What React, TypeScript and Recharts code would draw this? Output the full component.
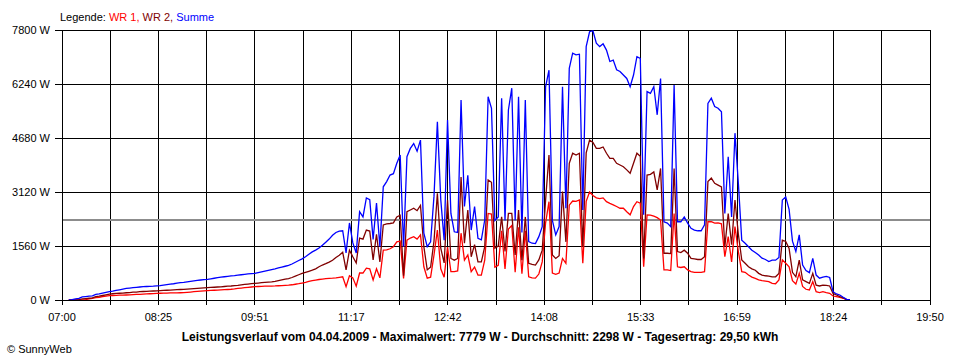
import { CartesianGrid, Line, LineChart, ReferenceLine, XAxis, YAxis } from "recharts";

// samples every 3 minutes, first one at 07:06
const START_MIN = 6;
const STEP_MIN = 3;
const SPAN_MIN = 770; // 07:00 .. 19:50

const timeLabels = ["07:00", "08:25", "09:51", "11:17", "12:42", "14:08", "15:33", "16:59", "18:24", "19:50"];
const yTicks = [0, 1560, 3120, 4680, 6240, 7800];
const average = 2298;

// WR 1 (red)
const wr1 = [
  0, 0, 0, 0, 0, 10, 30, 50, 70, 80,
  95, 110, 125, 130, 135, 140, 140, 145, 150, 155,
  160, 165, 170, 175, 180, 185, 190, 195, 198, 200,
  203, 205, 208, 210, 212, 220, 230, 240, 250, 258,
  265, 270, 276, 282, 288, 294, 298, 304, 310, 320,
  335, 345, 355, 365, 375, 385, 390, 394, 398, 400,
  403, 406, 412, 418, 425, 430, 440, 455, 470, 490,
  510, 535, 560, 575, 592, 605, 615, 625, 630, 640,
  655, 670, 385, 700, 640, 400, 780, 780, 920, 900,
  580, 900, 640, 1440, 1450, 1480, 1540, 1680, 1700, 620,
  1730, 1790, 1830, 1760, 1880, 960, 630, 660, 1300, 2020,
  900, 660, 1530, 820, 820, 840, 1930, 1150, 1300, 820,
  950, 720, 720, 1150, 2500, 2480, 950, 1000, 2000, 900,
  2050, 2150, 800, 2100, 760, 2000, 670, 640, 630, 750,
  1100, 2230, 2840, 780, 740, 780, 1200, 1060, 2740, 2860,
  2850, 2890, 1060, 2850, 3120, 3020, 2950, 2930, 2950, 2840,
  2790, 2750, 2700, 2650, 2650, 2550, 2460, 2700, 2840, 2800,
  960, 2460, 2450, 2420, 2380, 2310, 870, 870, 850, 2500,
  960, 940, 960, 870, 820, 800, 800, 800, 820, 2260,
  2260, 2220, 2230, 2200, 1250, 1830, 1100, 2120, 1400, 820,
  800, 720, 660, 625, 580, 560, 545, 530, 480, 470,
  580, 1160, 1060, 960, 560, 460, 770, 390, 310, 290,
  530, 240, 215, 240, 215, 195, 115, 95, 75, 50,
  10, 0,
];

// WR 2 (dark red)
const wr2 = [
  0, 0, 0, 10, 30, 40, 50, 60, 95, 110,
  130, 150, 170, 180, 190, 195, 200, 210, 215, 225,
  230, 240, 245, 250, 255, 260, 265, 270, 276, 282,
  288, 292, 298, 304, 308, 315, 322, 330, 338, 345,
  352, 356, 362, 368, 375, 382, 390, 398, 405, 415,
  425, 438, 450, 460, 472, 481, 490, 500, 510, 518,
  526, 540, 560, 580, 600, 620, 650, 690, 730, 770,
  800, 830, 862, 900, 960, 1010, 1050, 1095, 1150, 1230,
  1290, 1380, 870, 1440, 1250, 1070, 1790, 1760, 2020, 1990,
  1160, 1900, 1100, 2170, 2200, 2210, 2230, 2400, 2450, 700,
  2550, 2600, 2650, 2580, 2730, 1540, 870, 950, 1700, 3080,
  1500, 1070, 2890, 1200, 1150, 1200, 3550, 1640, 2600, 1250,
  1600, 1100, 1100, 1540, 3470, 3400, 1500, 1560, 2400, 1400,
  2500, 2500, 1300, 2600, 1150, 2400, 1060, 1030, 1010, 1160,
  1440, 2890, 4190, 1300, 1200, 1280, 3130, 1680, 3950, 4240,
  4190, 4240, 1540, 4250, 4620, 4550, 4380, 4380, 4420, 4240,
  4090, 4090, 3950, 3900, 3850, 3760, 3660, 3950, 4240, 4150,
  1200, 3610, 3630, 3700, 3180, 3800, 1350, 1350, 1340, 3800,
  1400, 1370, 1440, 1350, 1200, 1190, 1170, 1170, 1250, 3420,
  3520, 3370, 3320, 3270, 1540, 2500, 1600, 2890, 1900, 1160,
  1060, 960, 900, 860, 770, 720, 700, 690, 670, 670,
  770, 1730, 1690, 1490, 800, 670, 1150, 580, 530, 480,
  770, 430, 405, 430, 420, 405, 190, 145, 100, 60,
  10, 0,
];

// Summe (blue)
const summe = [
  0, 10, 30, 50, 90, 100, 110, 120, 160, 175,
  200, 220, 240, 255, 275, 295, 315, 335, 345, 355,
  365, 375, 385, 390, 395, 400, 408, 415, 430, 445,
  460, 470, 485, 500, 510, 525, 540, 552, 565, 578,
  590, 597, 612, 628, 645, 660, 672, 685, 695, 705,
  718, 730, 742, 752, 762, 770, 790, 810, 832, 855,
  880, 900, 925, 950, 975, 1000, 1040, 1090, 1140, 1190,
  1250, 1320, 1390, 1440, 1500, 1580, 1670, 1760, 1870, 1950,
  1990, 2000, 1360, 2225, 1650, 1360, 2550, 2400, 2950, 2900,
  1750, 2800, 1540, 3270, 3420, 3610, 3650, 3950, 4190, 1540,
  4140, 4380, 4520, 4300, 4620, 1930, 1540, 1680, 3000, 5150,
  2900, 1730, 5200, 2500, 1970, 1950, 5780, 2700, 3600, 2020,
  2700, 1780, 1740, 2310, 5870, 5540, 2300, 2400, 5830, 2300,
  5490, 6120, 2300, 5870, 1950, 5780, 1690, 1640, 1630, 1830,
  2120, 6160, 6640, 2300, 1880, 2120, 6160, 2650, 6690, 7130,
  7080, 7100, 2600, 7320, 7750, 7779, 7420, 7320, 7400, 7220,
  6890, 6930, 6650, 6600, 6500, 6400, 6160, 6500, 7030, 6980,
  2460, 6020, 5970, 6160, 5350, 6400, 2260, 2220, 2120, 6210,
  2260, 2260, 2400, 2220, 2070, 2020, 2000, 2000, 2170, 5680,
  5830, 5590, 5540, 5440, 2500, 4140, 2400, 4820, 3370, 1730,
  1640, 1540, 1440, 1370, 1300, 1210, 1170, 1110, 1150, 1150,
  1230, 2890, 2980, 2620, 1700, 1400, 1880, 1010, 850, 790,
  1200, 720, 630, 660, 680, 650, 240, 175, 145, 80,
  20, 0,
];

const n = Math.min(wr1.length, wr2.length, summe.length);
const rows = Array.from({ length: n }, (_, i) => ({
  t: START_MIN + i * STEP_MIN,
  wr1: wr1[i],
  wr2: wr2[i],
  summe: summe[i],
}));

const xStep = SPAN_MIN / 18;
const xTicks = Array.from({ length: 19 }, (_, i) => i * xStep);

const FONT = "'Liberation Sans', Arial, sans-serif";

function XTick({ x, y, payload }: any) {
  const i = Math.round(payload.value / xStep);
  if (i % 2) return <g />;
  return (
    <text x={x} y={y + 15.5} textAnchor="middle" fontFamily={FONT} fontSize={11} fill="#000">
      {timeLabels[i / 2]}
    </text>
  );
}

function YTick({ x, y, payload }: any) {
  return (
    <text x={x} y={y + 4} textAnchor="end" fontFamily={FONT} fontSize={11} fill="#000">
      {payload.value} W
    </text>
  );
}

export default function App() {
  return (
    <div style={{ position: "absolute", left: 0, top: 0, width: 960, height: 360, background: "#fff" }}>
      <LineChart width={960} height={360} data={rows} margin={{ top: 30, right: 30, bottom: 30, left: 0 }}>
        <CartesianGrid stroke="#000" strokeWidth={1} shapeRendering="crispEdges" />
        <XAxis
          type="number"
          dataKey="t"
          domain={[0, SPAN_MIN]}
          ticks={xTicks}
          interval={0}
          height={30}
          tickSize={5}
          tickMargin={0}
          stroke="#000"
          shapeRendering="crispEdges"
          tickLine={{ stroke: "#000", shapeRendering: "crispEdges" }}
          tick={<XTick />}
        />
        <YAxis
          domain={[0, 7800]}
          ticks={yTicks}
          interval={0}
          width={62}
          tickSize={7}
          tickMargin={5}
          stroke="#000"
          shapeRendering="crispEdges"
          tickLine={{ stroke: "#000", shapeRendering: "crispEdges" }}
          tick={<YTick />}
        />
        <ReferenceLine y={average} stroke="#8c8c8c" strokeWidth={2} shapeRendering="crispEdges" />
        <Line type="linear" dataKey="wr1" stroke="#ff0000" strokeWidth={1.3} dot={false} isAnimationActive={false} />
        <Line type="linear" dataKey="wr2" stroke="#800000" strokeWidth={1.3} dot={false} isAnimationActive={false} />
        <Line type="linear" dataKey="summe" stroke="#0000ff" strokeWidth={1.3} dot={false} isAnimationActive={false} />
      </LineChart>
      <svg width={960} height={360} style={{ position: "absolute", left: 0, top: 0, pointerEvents: "none" }}>
        <text x={60} y={20.5} fontFamily={FONT} fontSize={11}>
          <tspan fill="#000">Legende: </tspan>
          <tspan fill="#ff0000">WR 1, </tspan>
          <tspan fill="#800000">WR 2, </tspan>
          <tspan fill="#0000ff">Summe</tspan>
        </text>
        <text x={480} y={341} textAnchor="middle" fontFamily={FONT} fontSize={12} fontWeight="bold" fill="#000">
          Leistungsverlauf vom 04.04.2009 - Maximalwert: 7779 W - Durchschnitt: 2298 W - Tagesertrag: 29,50 kWh
        </text>
        <text x={7} y={352.5} fontFamily={FONT} fontSize={11} fill="#000">
          © SunnyWeb
        </text>
      </svg>
    </div>
  );
}
